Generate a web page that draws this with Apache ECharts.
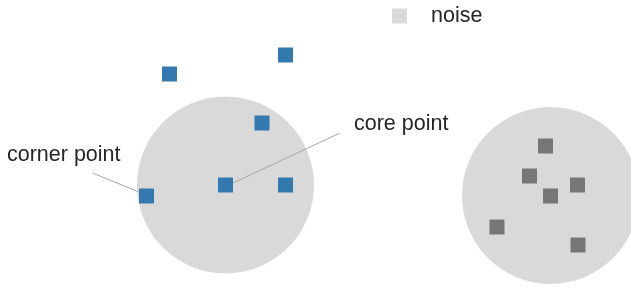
<!DOCTYPE html>
<html>
<head>
<meta charset="utf-8">
<script src="https://cdn.jsdelivr.net/npm/echarts@6/dist/echarts.min.js"></script>
<style>
  html, body { margin: 0; padding: 0; background: #fff; }
  #chart { width: 631px; height: 287px; }
</style>
</head>
<body>
<div id="chart"></div>
<script>
// neighbourhood circles (centre x, centre y)
const circles = [[225.5, 185], [550.5, 195.5]];
// clustered points
const clusterPoints = [
    [169.5, 74], [285.5, 55], [262, 123],
    [146.5, 196], [225.5, 185], [285.5, 185]
];
// noise points
const noisePoints = [
    [545.5, 146], [529.5, 176], [577.5, 185],
    [550.5, 196], [497, 227], [578, 245]
];
// annotation labels: [x, y, text]
const labels = [[7, 155, 'corner point'], [354, 124, 'core point']];
// leader lines: [[x1, y1], [x2, y2]]
const leaders = [
    [[92.5, 173], [139, 192]],
    [[233, 183], [340, 133]]
];

const font = 'Liberation Sans';
const fontSize = 21.5;

const option = {
    animation: false,
    grid: { left: 0, right: 0, top: 0, bottom: 0 },
    xAxis: { type: 'value', min: 0, max: 631, show: false },
    yAxis: { type: 'value', min: 0, max: 287, inverse: true, show: false },
    legend: {
        data: ['noise'],
        left: 392,
        top: 5,
        padding: 0,
        icon: 'rect',
        itemWidth: 15,
        itemHeight: 15,
        textStyle: {
            fontFamily: font,
            fontSize: fontSize,
            color: '#262626',
            padding: [0, 0, 0, 19]
        }
    },
    series: [
        {
            name: 'noise',
            type: 'scatter',
            symbol: 'circle',
            symbolSize: 177,
            clip: false,
            itemStyle: { color: '#d9d9d9', opacity: 1 },
            data: circles,
            z: 1
        },
        {
            name: 'cluster',
            type: 'scatter',
            symbol: 'rect',
            symbolSize: 15,
            itemStyle: { color: '#3478b0', opacity: 1 },
            data: clusterPoints,
            z: 3,
            markLine: {
                silent: true,
                symbol: 'none',
                label: { show: false },
                lineStyle: { color: '#a6a6a6', width: 1, type: 'solid', opacity: 1 },
                data: leaders.map(([a, b]) => [{ coord: a }, { coord: b }])
            }
        },
        {
            name: 'outlier',
            type: 'scatter',
            symbol: 'rect',
            symbolSize: 15,
            itemStyle: { color: '#767676', opacity: 1 },
            data: noisePoints,
            z: 3
        },
        {
            name: 'labels',
            type: 'scatter',
            symbolSize: 0,
            itemStyle: { opacity: 1 },
            data: labels.map(([x, y, t]) => ({ value: [x, y], name: t })),
            label: {
                show: true,
                position: 'right',
                distance: 0,
                formatter: p => p.name,
                fontFamily: font,
                fontSize: fontSize,
                color: '#262626'
            },
            z: 4
        }
    ]
};

const chart = echarts.init(document.getElementById('chart'));
chart.setOption(option);
</script>
</body>
</html>
